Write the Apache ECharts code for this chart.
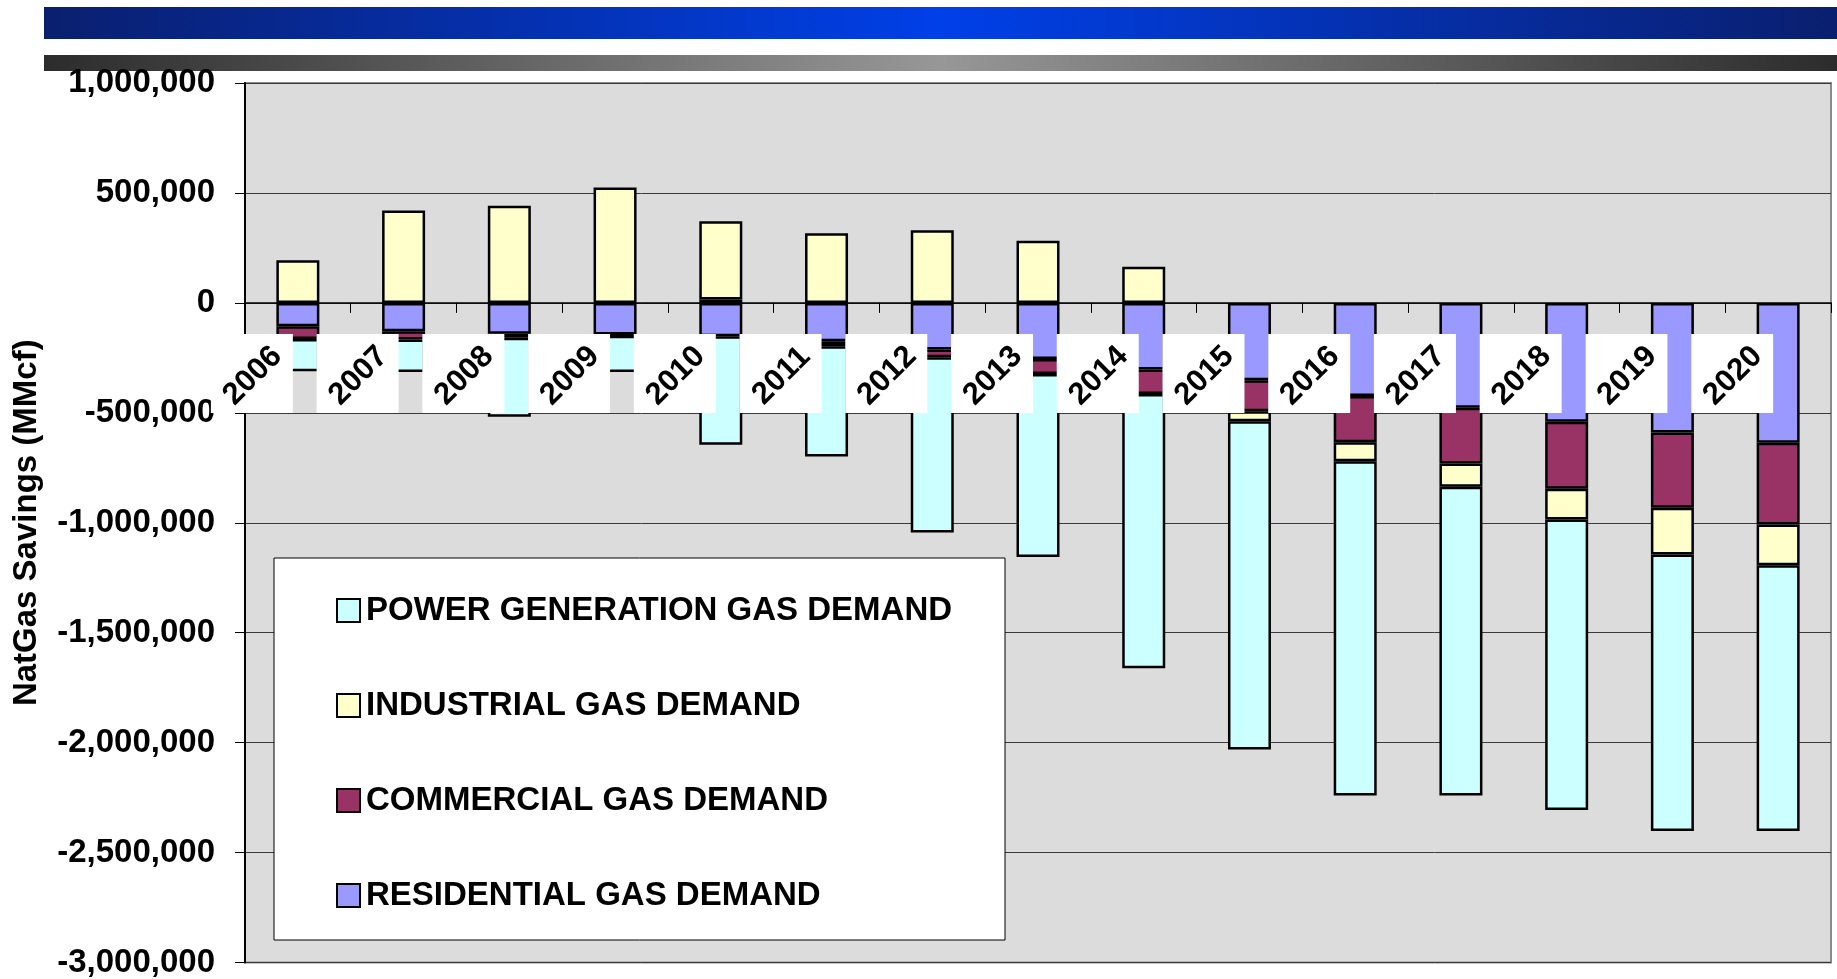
<!DOCTYPE html>
<html>
<head>
<meta charset="utf-8">
<script src="https://cdn.jsdelivr.net/npm/echarts@6/dist/echarts.min.js"></script>
<style>
html,body{margin:0;padding:0;background:#fff;}
#chart{width:1837px;height:979px;}
</style>
</head>
<body>
<div id="chart"></div>
<script>
const years = ['2006','2007','2008','2009','2010','2011','2012','2013','2014','2015','2016','2017','2018','2019','2020'];
const residential = [-106000,-129000,-140000,-144000,-152000,-174000,-212000,-255000,-303000,-352000,-423000,-477000,-541000,-589000,-636000];
const commercial = [-58000,-38000,-19000,-5000,15000,-23000,-35000,-68000,-111000,-141000,-211000,-253000,-304000,-343000,-372000];
const industrial = [194000,420000,442000,525000,356000,317000,330000,283000,164000,-45000,-86000,-106000,-140000,-212000,-185000];
const power = [-147000,-147000,-359000,-165000,-493000,-502000,-797000,-833000,-1248000,-1493000,-1521000,-1405000,-1321000,-1258000,-1209000];
const seriesNames = ['RESIDENTIAL GAS DEMAND','COMMERCIAL GAS DEMAND','INDUSTRIAL GAS DEMAND','POWER GENERATION GAS DEMAND'];
const legendOrder = ['POWER GENERATION GAS DEMAND','INDUSTRIAL GAS DEMAND','COMMERCIAL GAS DEMAND','RESIDENTIAL GAS DEMAND'];
const yAxisTitle = 'NatGas Savings (MMcf)';

const FONT = "'Liberation Sans', Arial, sans-serif";
const chart = echarts.init(document.getElementById('chart'), null, {renderer:'canvas'});

function fmt(v){ return v.toLocaleString('en-US'); }

function barSeries(name, data, color){
  return {
    name: name, type: 'bar', stack: 'total', data: data, barWidth: 43,
    itemStyle: {color: color, borderColor: '#000', borderWidth: 2.5},
    emphasis: {disabled: true}, z: 2
  };
}

const option = {
  animation: false,
  backgroundColor: '#ffffff',
  graphic: [
    {type:'rect', z:0, shape:{x:44, y:7, width:1793, height:32},
     style:{fill:new echarts.graphic.LinearGradient(0,0,1,0,[
       {offset:0,color:'#0a1f6e'},{offset:0.5,color:'#0040e8'},{offset:1,color:'#0a1f6e'}])}},
    {type:'rect', z:0, shape:{x:44, y:55, width:1793, height:16},
     style:{fill:new echarts.graphic.LinearGradient(0,0,1,0,[
       {offset:0,color:'#2c2c2c'},{offset:0.5,color:'#979797'},{offset:1,color:'#2c2c2c'}])}},
    {type:'rect', z:5, shape:{x:274, y:558, width:731, height:382},
     style:{fill:'#ffffff', stroke:'#000', lineWidth:1}}
  ],
  grid: {left:245, right:6, top:83, bottom:16, show:true, backgroundColor:'#dcdcdc', borderColor:'#8a8a8a', borderWidth:2},
  legend: {
    data: legendOrder, orient:'vertical', left:331, top:589, z:6,
    itemWidth:23, itemHeight:23, itemGap:62, icon:'rect',
    itemStyle:{borderColor:'#000', borderWidth:2},
    textStyle:{fontFamily:FONT, fontWeight:'bold', fontSize:33, color:'#000', lineHeight:33, padding:[0,0,0,1]},
    selectedMode:false
  },
  xAxis: {
    type:'category', data: years, boundaryGap:true,
    axisLine:{onZero:true, lineStyle:{color:'#000', width:1.5}},
    axisTick:{show:true, length:10, lineStyle:{color:'#000', width:1}},
    axisLabel:{show:false},
    splitLine:{show:false}
  },
  yAxis: {
    type:'value', min:-3000000, max:1000000, interval:500000,
    name: yAxisTitle, nameLocation:'middle', nameGap:202, nameRotate:90,
    nameTextStyle:{fontFamily:FONT, fontWeight:'bold', fontSize:33, color:'#000'},
    axisLine:{show:true, lineStyle:{color:'#000', width:2}},
    axisTick:{show:true, length:10, inside:false, lineStyle:{color:'#000', width:1}},
    axisLabel:{formatter: fmt, fontFamily:FONT, fontWeight:'bold', fontSize:33, color:'#000', margin:30},
    splitLine:{show:true, lineStyle:{color:'#3a3a3a', width:1}}
  },
  series: [
    barSeries(seriesNames[0], residential, '#9999ff'),
    barSeries(seriesNames[1], commercial, '#993366'),
    barSeries(seriesNames[2], industrial, '#ffffcc'),
    barSeries(seriesNames[3], power, '#ccffff'),
    {
      type:'custom', name:'labels', z:4, clip:false, silent:true,
      data: years.map((y,i)=>[i,0]),
      renderItem: function(params, api){
        const p = api.coord([api.value(0), 0]);
        return {
          type:'group',
          children:[
            {type:'rect', shape:{x:p[0]-87, y:p[1]+31, width:82, height:79}, style:{fill:'#ffffff'}},
            {type:'text', x:p[0]-45, y:p[1]+73, rotation:Math.PI/4,
             style:{text: years[params.dataIndex], fill:'#000', font:"bold 31px 'Liberation Sans', Arial, sans-serif", align:'center', verticalAlign:'middle'}}
          ]
        };
      }
    }
  ]
};
chart.setOption(option);
</script>
</body>
</html>
